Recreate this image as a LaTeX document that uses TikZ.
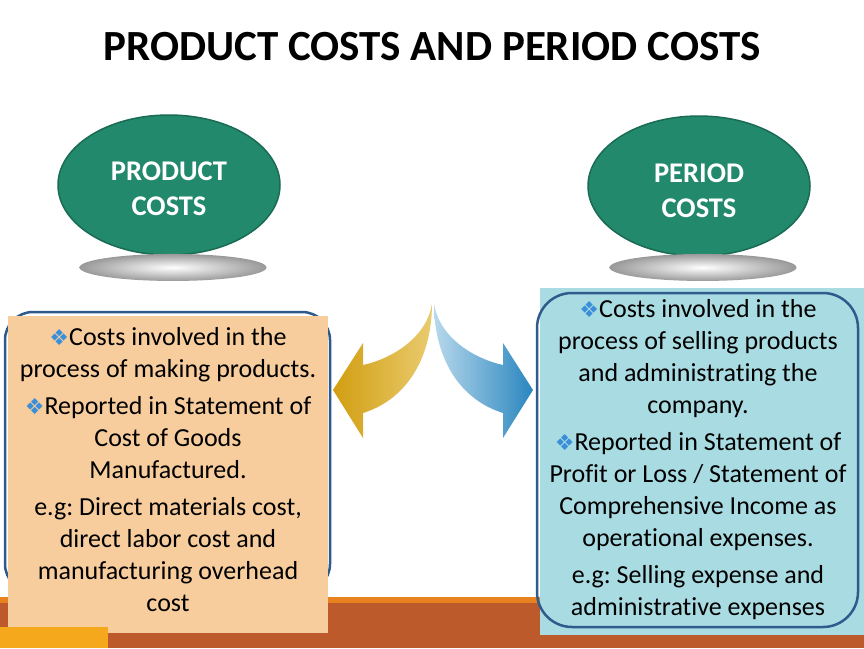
\documentclass[tikz,border=0pt]{standalone}
\usepackage{fontspec}
\setmainfont{Carlito}[Ligatures={NoCommon}]
\newfontfamily\symfont{DejaVu Sans}
\usetikzlibrary{positioning,shapes.geometric}
\frenchspacing

\definecolor{ovalgreen}{HTML}{23896C}
\definecolor{ovalrim}{HTML}{1A6B53}
\definecolor{peach}{HTML}{F8CD9E}
\definecolor{paleblue}{HTML}{A9DCE2}
\definecolor{lineblue}{HTML}{2F5B8C}
\definecolor{bulblue}{HTML}{3B8FD9}
\definecolor{barbrown}{HTML}{BC5A2C}
\definecolor{barorange}{HTML}{E8821F}
\definecolor{baryellow}{HTML}{F5A81C}
\definecolor{golddark}{HTML}{D29E12}
\definecolor{goldlight}{HTML}{E9CB6E}
\definecolor{skylight}{HTML}{B7D8EC}
\definecolor{skydark}{HTML}{2A86BF}

\newcommand{\bul}{{\symfont\fontsize{22}{22}\selectfont\color{bulblue}❖}}

\tikzset{
  oval/.style={ellipse, fill=ovalgreen, draw=ovalrim, line width=1.5pt,
    minimum width=222pt, minimum height=140pt, inner sep=0pt,
    text=white, align=center, font=\fontsize{28.5}{35}\selectfont\bfseries},
  shadow/.style={ellipse, minimum width=187pt, minimum height=27pt,
    inner color=white, outer color=black!40},
  txt/.style={align=center, inner sep=0pt, anchor=north,
    font=\fontsize{26}{32}\selectfont}
}

\begin{document}
\begin{tikzpicture}[x=1pt,y=-1pt]
\useasboundingbox (0,0) rectangle (864,648);
\fill[white] (0,0) rectangle (864,648);

% title
\node[font=\fontsize{43}{43}\selectfont\bfseries] (title) at (432,47) {PRODUCT COSTS AND PERIOD COSTS};

% bottom bar
\fill[barorange] (0,597) rectangle (864,603);
\fill[barbrown] (0,603) rectangle (864,648);

% ovals
\node[oval] (prod) at (169,185) {\raisebox{-6pt}[\height][\depth]{\begin{tabular}{@{}c@{}}PRODUCT\\COSTS\end{tabular}}};
\node[shadow, below=-2pt of prod, xshift=4pt] (prodsh) {};
\node[oval] (per) at (699,186) {\raisebox{-7pt}[\height][\depth]{\begin{tabular}{@{}c@{}}PERIOD\\COSTS\end{tabular}}};
\node[shadow, below=-3pt of per, xshift=4pt] (persh) {};

% left box
\draw[lineblue, line width=2.5pt, rounded corners=28pt] (5,312) rectangle (330,592);
\fill[peach] (8,316) rectangle (328,633);
\fill[baryellow] (0,627) rectangle (108,648);
\node[txt] (prodtxt) at (168,327) {\bul Costs involved in the\\process of making products.\\[5pt]
  \bul Reported in Statement of\\Cost of Goods\\Manufactured.\\[5pt]
  e.g: Direct materials cost,\\direct labor cost and\\manufacturing overhead\\cost};

% right box
\fill[paleblue] (540,288) rectangle (864,635);
\draw[lineblue, line width=2.5pt, rounded corners=35pt] (537,293) rectangle (858,627);
\node[txt] (pertxt) at (698,299) {\bul Costs involved in the\\process of selling products\\and administrating the\\company.\\[5pt]
  \bul Reported in Statement of\\Profit or Loss / Statement of\\Comprehensive Income as\\operational expenses.\\[5pt]
  e.g: Selling expense and\\administrative expenses};

% curved arrows
\shade[left color=golddark, right color=goldlight]
  (432,303) .. controls (428,335) and (395,358) .. (363,365) -- (363,343) -- (333,390)
  -- (363,438) -- (363,413) .. controls (405,400) and (432,360) .. cycle;
\shade[left color=skylight, right color=skydark]
  (434,303) .. controls (438,335) and (471,358) .. (503,365) -- (503,343) -- (533,390)
  -- (503,438) -- (503,413) .. controls (461,400) and (434,360) .. cycle;
\end{tikzpicture}
\end{document}
